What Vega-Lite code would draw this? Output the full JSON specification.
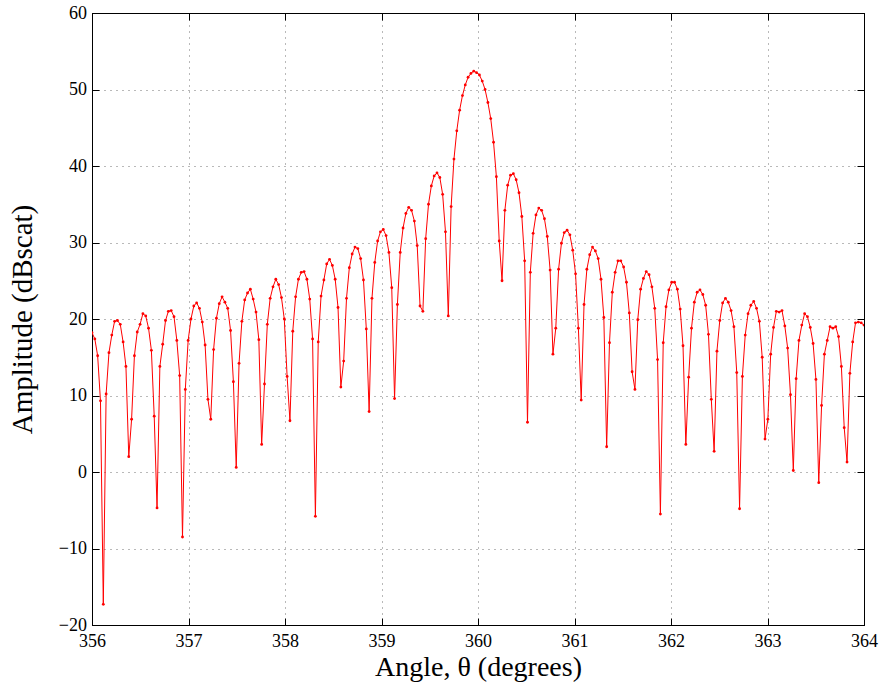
{
  "$schema": "https://vega.github.io/schema/vega-lite/v6.json",
  "width": 772,
  "height": 612,
  "autosize": {"type": "none"},
  "padding": {"left": 92, "top": 13, "right": 17, "bottom": 61},
  "background": "white",
  "config": {
    "view": {"stroke": "black", "strokeWidth": 1},
    "axis": {
      "domainColor": "black", "domainWidth": 1,
      "tickColor": "black", "tickSize": -7, "tickWidth": 1,
      "labelFont": "Liberation Serif", "labelFontSize": 18, "labelColor": "black",
      "labelFlush": false, "labelOverlap": false,
      "titleFont": "Liberation Serif", "titleFontWeight": "normal", "titleColor": "black",
      "gridColor": "black", "gridOpacity": 0.55, "gridDash": [1, 5], "gridWidth": 1
    }
  },
  "data": {"values": [
    {"a":356.0000,"d":18.2},{"a":356.0293,"d":17.4},{"a":356.0586,"d":15.2},{"a":356.0879,"d":9.3},{"a":356.1172,"d":-17.3},
    {"a":356.1465,"d":10.2},{"a":356.1758,"d":15.6},{"a":356.2051,"d":17.9},{"a":356.2344,"d":19.7},{"a":356.2637,"d":19.8},
    {"a":356.2930,"d":19.3},{"a":356.3223,"d":17.0},{"a":356.3516,"d":13.8},{"a":356.3810,"d":2.0},{"a":356.4103,"d":6.9},
    {"a":356.4396,"d":15.2},{"a":356.4689,"d":18.3},{"a":356.4982,"d":19.3},{"a":356.5275,"d":20.7},{"a":356.5568,"d":20.4},
    {"a":356.5861,"d":18.8},{"a":356.6154,"d":15.9},{"a":356.6447,"d":7.3},{"a":356.6740,"d":-4.7},{"a":356.7033,"d":13.8},
    {"a":356.7326,"d":16.7},{"a":356.7619,"d":19.8},{"a":356.7912,"d":21.0},{"a":356.8205,"d":21.1},{"a":356.8498,"d":20.3},
    {"a":356.8791,"d":17.2},{"a":356.9084,"d":12.6},{"a":356.9377,"d":-8.5},{"a":356.9670,"d":10.8},{"a":356.9963,"d":17.2},
    {"a":357.0256,"d":20.0},{"a":357.0549,"d":21.7},{"a":357.0842,"d":22.1},{"a":357.1136,"d":21.4},{"a":357.1429,"d":19.6},
    {"a":357.1722,"d":16.6},{"a":357.2015,"d":9.5},{"a":357.2308,"d":6.9},{"a":357.2601,"d":16.0},{"a":357.2894,"d":20.1},
    {"a":357.3187,"d":22.0},{"a":357.3480,"d":22.9},{"a":357.3773,"d":22.2},{"a":357.4066,"d":21.4},{"a":357.4359,"d":18.5},
    {"a":357.4652,"d":11.8},{"a":357.4945,"d":0.6},{"a":357.5238,"d":14.2},{"a":357.5531,"d":19.7},{"a":357.5824,"d":22.5},
    {"a":357.6117,"d":23.4},{"a":357.6410,"d":23.9},{"a":357.6703,"d":22.6},{"a":357.6996,"d":20.9},{"a":357.7289,"d":17.3},
    {"a":357.7582,"d":3.6},{"a":357.7875,"d":11.5},{"a":357.8168,"d":19.3},{"a":357.8462,"d":22.7},{"a":357.8755,"d":24.2},
    {"a":357.9048,"d":25.2},{"a":357.9341,"d":24.5},{"a":357.9634,"d":22.8},{"a":357.9927,"d":20.0},{"a":358.0220,"d":12.5},
    {"a":358.0513,"d":6.7},{"a":358.0806,"d":18.4},{"a":358.1099,"d":22.9},{"a":358.1392,"d":25.2},{"a":358.1685,"d":26.1},
    {"a":358.1978,"d":26.2},{"a":358.2271,"d":25.2},{"a":358.2564,"d":22.6},{"a":358.2857,"d":17.4},{"a":358.3150,"d":-5.8},
    {"a":358.3443,"d":17.0},{"a":358.3736,"d":23.0},{"a":358.4029,"d":25.1},{"a":358.4322,"d":27.2},{"a":358.4615,"d":27.8},
    {"a":358.4908,"d":27.0},{"a":358.5201,"d":25.2},{"a":358.5495,"d":21.5},{"a":358.5788,"d":11.1},{"a":358.6081,"d":14.5},
    {"a":358.6374,"d":22.7},{"a":358.6667,"d":26.7},{"a":358.6960,"d":28.5},{"a":358.7253,"d":29.4},{"a":358.7546,"d":29.2},
    {"a":358.7839,"d":27.9},{"a":358.8132,"d":25.1},{"a":358.8425,"d":18.7},{"a":358.8718,"d":7.9},{"a":358.9011,"d":22.7},
    {"a":358.9304,"d":27.4},{"a":358.9597,"d":30.2},{"a":358.9890,"d":31.4},{"a":359.0183,"d":31.7},{"a":359.0476,"d":30.9},
    {"a":359.0769,"d":28.7},{"a":359.1062,"d":24.1},{"a":359.1355,"d":9.6},{"a":359.1648,"d":21.9},{"a":359.1941,"d":28.7},
    {"a":359.2234,"d":31.9},{"a":359.2527,"d":33.8},{"a":359.2821,"d":34.6},{"a":359.3114,"d":34.2},{"a":359.3407,"d":32.8},
    {"a":359.3700,"d":29.6},{"a":359.3993,"d":21.7},{"a":359.4286,"d":21.0},{"a":359.4579,"d":30.5},{"a":359.4872,"d":35.0},
    {"a":359.5165,"d":37.4},{"a":359.5458,"d":38.7},{"a":359.5751,"d":39.1},{"a":359.6044,"d":38.5},{"a":359.6337,"d":36.3},
    {"a":359.6630,"d":31.4},{"a":359.6923,"d":20.4},{"a":359.7216,"d":34.7},{"a":359.7509,"d":40.9},{"a":359.7802,"d":44.6},
    {"a":359.8095,"d":47.3},{"a":359.8388,"d":49.2},{"a":359.8681,"d":50.6},{"a":359.8974,"d":51.6},{"a":359.9267,"d":52.1},
    {"a":359.9560,"d":52.4},{"a":359.9853,"d":52.2},{"a":360.0147,"d":51.9},{"a":360.0440,"d":51.1},{"a":360.0733,"d":50.0},
    {"a":360.1026,"d":48.3},{"a":360.1319,"d":46.2},{"a":360.1612,"d":43.1},{"a":360.1905,"d":38.6},{"a":360.2198,"d":30.2},
    {"a":360.2491,"d":25.0},{"a":360.2784,"d":34.2},{"a":360.3077,"d":37.5},{"a":360.3370,"d":38.8},{"a":360.3663,"d":39.0},
    {"a":360.3956,"d":38.2},{"a":360.4249,"d":36.5},{"a":360.4542,"d":33.4},{"a":360.4835,"d":27.6},{"a":360.5128,"d":6.5},
    {"a":360.5421,"d":26.1},{"a":360.5714,"d":31.2},{"a":360.6007,"d":33.6},{"a":360.6300,"d":34.5},{"a":360.6593,"d":34.2},
    {"a":360.6886,"d":33.1},{"a":360.7179,"d":30.8},{"a":360.7473,"d":26.4},{"a":360.7766,"d":15.4},{"a":360.8059,"d":18.8},
    {"a":360.8352,"d":26.5},{"a":360.8645,"d":29.9},{"a":360.8938,"d":31.3},{"a":360.9231,"d":31.6},{"a":360.9524,"d":31.0},
    {"a":360.9817,"d":29.0},{"a":361.0110,"d":25.9},{"a":361.0403,"d":18.8},{"a":361.0696,"d":9.4},{"a":361.0989,"d":21.9},
    {"a":361.1282,"d":26.5},{"a":361.1575,"d":28.4},{"a":361.1868,"d":29.4},{"a":361.2161,"d":28.9},{"a":361.2454,"d":27.9},
    {"a":361.2747,"d":25.2},{"a":361.3040,"d":20.2},{"a":361.3333,"d":3.3},{"a":361.3626,"d":16.9},{"a":361.3919,"d":23.5},
    {"a":361.4212,"d":26.1},{"a":361.4505,"d":27.6},{"a":361.4799,"d":27.6},{"a":361.5092,"d":26.8},{"a":361.5385,"d":24.8},
    {"a":361.5678,"d":20.8},{"a":361.5971,"d":13.1},{"a":361.6264,"d":10.8},{"a":361.6557,"d":19.9},{"a":361.6850,"d":23.9},
    {"a":361.7143,"d":25.3},{"a":361.7436,"d":26.2},{"a":361.7729,"d":25.8},{"a":361.8022,"d":24.2},{"a":361.8315,"d":21.4},
    {"a":361.8608,"d":14.7},{"a":361.8901,"d":-5.5},{"a":361.9194,"d":16.9},{"a":361.9487,"d":21.6},{"a":361.9780,"d":23.8},
    {"a":362.0073,"d":24.8},{"a":362.0366,"d":24.8},{"a":362.0659,"d":23.9},{"a":362.0952,"d":21.3},{"a":362.1245,"d":16.5},
    {"a":362.1538,"d":3.6},{"a":362.1832,"d":12.4},{"a":362.2125,"d":18.8},{"a":362.2418,"d":22.2},{"a":362.2711,"d":23.5},
    {"a":362.3004,"d":23.8},{"a":362.3297,"d":23.2},{"a":362.3590,"d":21.8},{"a":362.3883,"d":18.0},{"a":362.4176,"d":9.5},
    {"a":362.4469,"d":2.7},{"a":362.4762,"d":15.8},{"a":362.5055,"d":19.8},{"a":362.5348,"d":22.1},{"a":362.5641,"d":22.7},
    {"a":362.5934,"d":22.2},{"a":362.6227,"d":21.1},{"a":362.6520,"d":19.0},{"a":362.6813,"d":13.0},{"a":362.7106,"d":-4.8},
    {"a":362.7399,"d":12.5},{"a":362.7692,"d":17.9},{"a":362.7985,"d":20.7},{"a":362.8278,"d":21.8},{"a":362.8571,"d":22.3},
    {"a":362.8864,"d":21.4},{"a":362.9158,"d":19.7},{"a":362.9451,"d":15.0},{"a":362.9744,"d":4.3},{"a":363.0037,"d":6.9},
    {"a":363.0330,"d":15.4},{"a":363.0623,"d":18.9},{"a":363.0916,"d":21.0},{"a":363.1209,"d":20.9},{"a":363.1502,"d":21.1},
    {"a":363.1795,"d":19.1},{"a":363.2088,"d":16.2},{"a":363.2381,"d":10.1},{"a":363.2674,"d":0.2},{"a":363.2967,"d":12.2},
    {"a":363.3260,"d":17.2},{"a":363.3553,"d":19.2},{"a":363.3846,"d":20.7},{"a":363.4139,"d":20.3},{"a":363.4432,"d":18.9},
    {"a":363.4725,"d":16.8},{"a":363.5018,"d":12.1},{"a":363.5311,"d":-1.4},{"a":363.5604,"d":8.7},{"a":363.5897,"d":15.4},
    {"a":363.6190,"d":17.2},{"a":363.6484,"d":19.0},{"a":363.6777,"d":18.8},{"a":363.7070,"d":19.0},{"a":363.7363,"d":17.7},
    {"a":363.7656,"d":13.8},{"a":363.7949,"d":5.8},{"a":363.8242,"d":1.3},{"a":363.8535,"d":12.9},{"a":363.8828,"d":17.0},
    {"a":363.9121,"d":19.5},{"a":363.9414,"d":19.6},{"a":363.9707,"d":19.5},{"a":364.0000,"d":19.2}
  ]},
  "layer": [
    {
      "mark": {"type": "line", "color": "#ff0000", "strokeWidth": 1, "clip": true,
               "point": {"filled": true, "size": 8, "color": "#ff0000"}},
      "encoding": {
        "x": {"field": "a", "type": "quantitative",
              "scale": {"domain": [356, 364], "nice": false, "zero": false},
              "axis": {"orient": "bottom", "values": [356, 357, 358, 359, 360, 361, 362, 363, 364], "format": "d",
                       "grid": true, "labelPadding": 14.5, "title": "Angle, θ (degrees)", "titleFontSize": 28, "titlePadding": 3}},
        "y": {"field": "d", "type": "quantitative",
              "scale": {"domain": [-20, 60], "nice": false, "zero": false},
              "axis": {"orient": "left", "values": [-20, -10, 0, 10, 20, 30, 40, 50, 60], "format": "d",
                       "grid": true, "labelPadding": 12.5, "title": "Amplitude (dBscat)", "titleFontSize": 29, "titlePadding": 21}}
      }
    },
    {
      "mark": {"type": "line", "opacity": 0},
      "encoding": {
        "x": {"field": "a", "type": "quantitative",
              "scale": {"domain": [356, 364], "nice": false, "zero": false},
              "axis": {"orient": "top", "values": [356, 357, 358, 359, 360, 361, 362, 363, 364],
                       "labels": false, "grid": false, "title": null}},
        "y": {"field": "d", "type": "quantitative",
              "scale": {"domain": [-20, 60], "nice": false, "zero": false},
              "axis": {"orient": "right", "values": [-20, -10, 0, 10, 20, 30, 40, 50, 60],
                       "labels": false, "grid": false, "title": null}}
      }
    }
  ],
  "resolve": {"axis": {"x": "independent", "y": "independent"}}
}
